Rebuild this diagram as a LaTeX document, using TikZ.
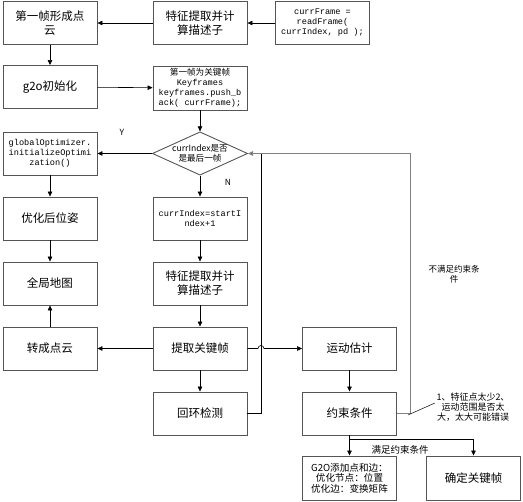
\documentclass[tikz,border=0pt]{standalone}
\usepackage{fontspec}
\setmainfont{Noto Sans CJK SC}
\setmonofont{Liberation Mono}
\usetikzlibrary{arrows.meta,positioning,shapes.geometric}
\definecolor{boxline}{RGB}{85,85,85}
\definecolor{backline}{RGB}{130,130,130}
\tikzset{
  box/.style={draw=boxline, line width=0.9pt, minimum width=94pt, minimum height=43pt,
              inner sep=1pt, align=center, font=\fontsize{11.5}{14}\selectfont},
  codebox/.style={box, font=\ttfamily\fontsize{8.6}{10}\selectfont},
  decision/.style={diamond, draw=boxline, line width=0.9pt, minimum width=94pt,
              minimum height=43pt, aspect=2.2, inner sep=0pt, align=center,
              font=\fontsize{8.6}{10.5}\selectfont},
  flow/.style={-{Triangle[length=5pt,width=4.5pt]}, line width=0.6pt},
  small/.style={font=\fontsize{8.5}{10}\selectfont, align=center}
}

\begin{document}
\begin{tikzpicture}[x=1pt,y=-1pt]
    \useasboundingbox (0,0) rectangle (523,502);
    % top row
    \node[box] (frame1) at (50,23) {第一帧形成点\\云};
    \node[box] (feat1) at (200,23) {特征提取并计\\算描述子};
    \node[codebox] (read) at (322.5,23) {currFrame =\\readFrame(\\currIndex, pd );};
    \node[box] (g2oinit) at (50,87) {g2o初始化};
    \node[codebox, minimum height=44pt] (keyf) at (200,88)
         {{\rmfamily\fontsize{8.6}{10}\selectfont 第一帧为关键帧}\\Keyframes\\keyframes.push\_b\\ack( currFrame);};
    % decision
    \node[decision] (dec) at (200,153.5) {currIndex是否\\是最后一帧};
    \node[codebox] (glob) at (50,153.5) {globalOptimizer.\\initializeOptimi\\zation()};
    \node[box] (optpose) at (50,218.5) {优化后位姿};
    \node[codebox] (idx) at (200,218.5) {currIndex=startI\\ndex+1};
    \node[box] (gmap) at (50,283.5) {全局地图};
    \node[box] (feat2) at (200,283.5) {特征提取并计\\算描述子};
    \node[box] (cloud) at (50,348.5) {转成点云};
    \node[box] (keyx) at (200,348.5) {提取关键帧};
    \node[box] (motion) at (349.5,348.5) {运动估计};
    \node[box] (loop) at (200,413.5) {回环检测};
    \node[box] (cons) at (349.5,413.5) {约束条件};
    \node[box, minimum height=44pt, font=\fontsize{9.6}{10.6}\selectfont] (g2oadd) at (349.5,478)
         {G2O添加点和边：\\优化节点：位置\\优化边：变换矩阵};
    \node[box, minimum height=44pt] (conf) at (473.5,478) {确定关键帧};

    % labels
    \node[small] (ylab) at (122,132) {Y};
    \node[small] (nlab) at (228,182) {N};
    \node[small] (fail) at (454,274) {不满足约束条\\件};
    \node[small, font=\fontsize{9.5}{11}\selectfont] (okay) at (400,450) {满足约束条件};
    \node[small, font=\fontsize{9}{10}\selectfont] (note) at (473,407)
         {1、特征点太少2、\\运动范围是否太\\大，太大可能错误};

    \coordinate (hop) at (261,348.5);
    \coordinate (join) at (261,153.5);
    \coordinate (back) at (410.5,153.5);
    \coordinate (split) at (349.5,439);
    \coordinate (tip) at (408,415);

    % main flow
    \draw[flow] (read) -- (feat1);
    \draw[flow] (feat1) -- (frame1);
    \draw[flow] (frame1) -- (g2oinit);
    \draw[flow] (g2oinit) -- (keyf);
    \draw[flow] (keyf) -- (dec);
    \draw[flow] (dec) -- (glob);
    \draw[flow] (dec) -- (idx);
    \draw[flow] (glob) -- (optpose);
    \draw[flow] (optpose) -- (gmap);
    \draw[flow] (idx) -- (feat2);
    \draw[flow] (feat2) -- (keyx);
    \draw[flow] (keyx) -- (cloud);
    \draw[flow] (cloud) -- (gmap);
    \draw[flow] (keyx.east) -- ([xshift=-3pt]hop) arc[start angle=180, end angle=0, radius=3pt] -- (motion.west);
    \draw[flow] (keyx) -- (loop);
    \draw[flow] (motion) -- (cons);
    % loops back to the decision
    \draw[line width=0.6pt] (loop.east) -| (join);
    \draw[-{Triangle[length=5pt,width=4.5pt,fill=black]}, backline, line width=1.2pt] (cons.east) -| (back) -- (dec.east);
    % constraints satisfied
    \draw[line width=0.6pt] (cons.south) -- (split);
    \draw[flow] (split) -- (g2oadd);
    \draw[flow] (split) -| (conf.north);
    \draw[line width=0.5pt] (tip) -- ([yshift=4pt,xshift=2pt]note.west);
\end{tikzpicture}
\end{document}
